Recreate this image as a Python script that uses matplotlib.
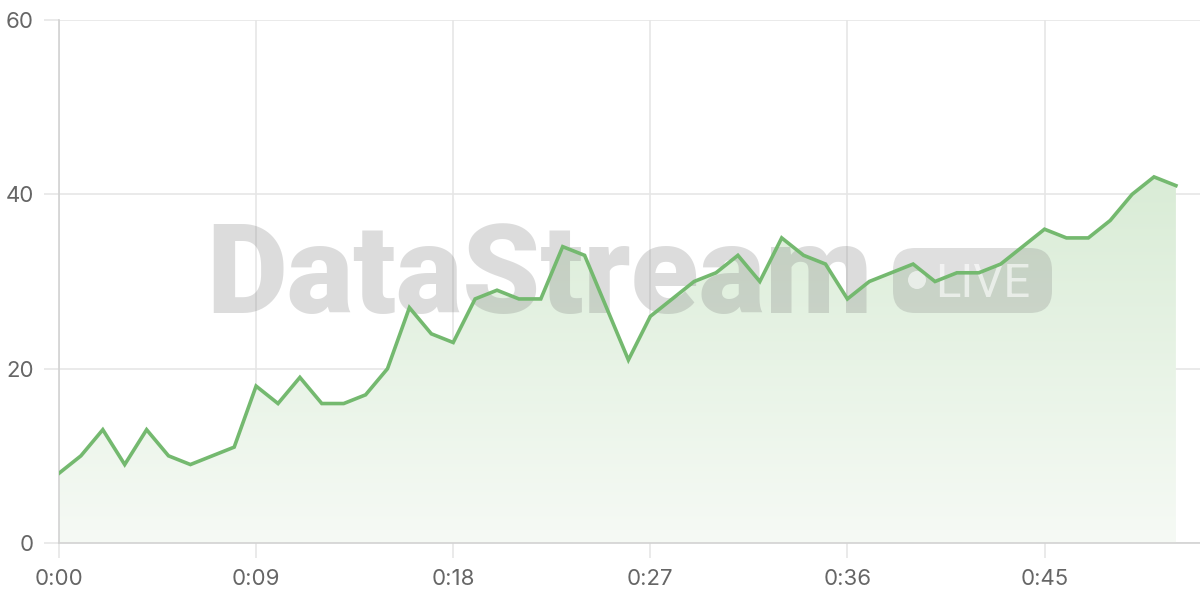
import numpy as np
import matplotlib
matplotlib.use('Agg')
import matplotlib.pyplot as plt
from matplotlib.patches import FancyBboxPatch, Circle

seconds = np.arange(52)
values = [8, 10, 13, 9, 13, 10, 9, 10, 11, 18, 16, 19, 16, 16, 17, 20, 27, 24, 23, 28,
          29, 28, 28, 34, 33, 27, 21, 26, 28, 30, 31, 33, 30, 35, 33, 32, 28, 30, 31, 32,
          30, 31, 31, 32, 34, 36, 35, 35, 37, 40, 42, 41]
x_ticks = [0, 9, 18, 27, 36, 45]
x_labels = ['0:%02d' % s for s in x_ticks]
y_ticks = [0, 20, 40, 60]

line_color = '#74b96f'
grid_color = '#e6e6e6'
label_color = '#666666'

plt.rcParams['font.family'] = ['Inter', 'DejaVu Sans']

fig = plt.figure(figsize=(12, 6), dpi=100)
ax = fig.add_axes([59 / 1200, 57 / 600, 1141 / 1200, 523 / 600])
ax.set_xlim(0, 52.1)
ax.set_ylim(0, 60)

# gradient fill under the line
poly = ax.fill_between(seconds, values, 0, color='none', lw=0)
grad = np.linspace(0, 1, 256).reshape(-1, 1)
cmap = matplotlib.colors.LinearSegmentedColormap.from_list(
    'g', ['#f6faf5', '#d9ecd6'])
img = ax.imshow(grad, cmap=cmap, aspect='auto', origin='lower',
                extent=[0, seconds[-1], 0, max(values)], zorder=1)
img.set_clip_path(poly.get_paths()[0], transform=ax.transData)

ax.plot(seconds, values, color=line_color, lw=2.6, zorder=4,
        solid_joinstyle='miter')

# watermark (pixel positions of the overlay)
ax.text(206 / 1200, (600 - 313) / 600, 'DataStream', transform=fig.transFigure,
        family='Roboto', fontweight=900, fontsize=90, color='#808080',
        alpha=0.27, ha='left', va='baseline', zorder=3)
pill = FancyBboxPatch((893, 600 - 313), 159, 65,
                      boxstyle='round,pad=0,rounding_size=22', transform=None,
                      facecolor='#808080', alpha=0.25, lw=0, zorder=3)
ax.add_patch(pill)
ax.add_patch(Circle((917, 600 - 280), 9, transform=None, facecolor='white',
                    alpha=0.6, lw=0, zorder=3))
ax.text(935 / 1200, (600 - 297) / 600, 'LIVE', transform=fig.transFigure,
        family='Roboto', fontsize=34, color='white', alpha=0.6,
        ha='left', va='baseline', zorder=3)

ax.set_xticks(x_ticks)
ax.set_xticklabels(x_labels)
ax.set_yticks(y_ticks)
ax.grid(True, color=grid_color, lw=1.2, zorder=0)
ax.set_axisbelow(True)
ax.tick_params(axis='both', colors=grid_color, length=11, width=1.2,
               labelcolor=label_color, labelsize=16)
ax.tick_params(axis='x', pad=8)
ax.tick_params(axis='y', pad=7)
for s in ['top', 'right']:
    ax.spines[s].set_visible(False)
for s in ['left', 'bottom']:
    ax.spines[s].set_color('#d2d2d2')
    ax.spines[s].set_linewidth(1.2)

fig.savefig('out.png', dpi=100)
